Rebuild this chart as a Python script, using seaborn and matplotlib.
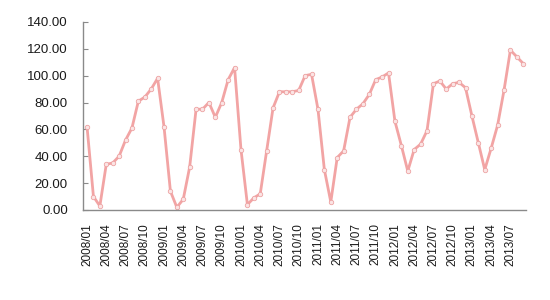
import matplotlib
matplotlib.use("Agg")
import matplotlib.pyplot as plt
import seaborn as sns
import pandas as pd
import numpy as np

# Monthly series 2008/01 - 2013/09
months = [f"{y}/{m:02d}" for y in range(2008, 2014) for m in range(1, 13)][:69]
values = [
    62, 10, 3, 34, 35, 40, 52, 61, 81, 84, 90, 98,          # 2008
    62, 14, 2, 8, 32, 75, 75, 80, 69, 80, 97, 106,          # 2009
    45, 4, 9, 12, 44, 76, 88, 88, 88, 89, 100, 101,         # 2010
    75, 30, 6, 39, 44, 69, 75, 79, 86, 97, 99, 102,         # 2011
    66, 48, 29, 45, 49, 59, 94, 96, 90, 94, 95, 91,         # 2012
    70, 50, 30, 46, 63, 89, 119, 114, 109,                  # 2013
]
yticks = [0, 20, 40, 60, 80, 100, 120, 140]

df = pd.DataFrame({"pos": np.arange(len(months)), "month": months, "value": values})

sns.set_style("white")
plt.rcParams["font.family"] = ["Liberation Sans", "DejaVu Sans"]

fig = plt.figure(figsize=(5.5, 3.0), dpi=100)
ax = fig.add_axes([0.151, 0.30, 0.805, 0.627])

line_color = "#F2A4A4"
sns.lineplot(data=df, x="pos", y="value", ax=ax, color=line_color, linewidth=2.0,
             marker="o", markersize=3.2, markerfacecolor="#FBE4E4",
             markeredgecolor="#EDA3A3", markeredgewidth=0.6)

ax.set_xlim(-0.62, 68.4)
ax.set_ylim(0, 140)
ax.set_yticks(yticks)
ax.set_yticklabels([f"{v:.2f}" for v in yticks], fontsize=9.5, color="#1a1a1a")
tick_pos = df["pos"].values[::3]
ax.set_xticks(tick_pos)
ax.set_xticklabels(df["month"].values[::3], rotation=90, fontsize=8.5, color="#1a1a1a")
ax.set_xlabel("")
ax.set_ylabel("")

for s in ["top", "right"]:
    ax.spines[s].set_visible(False)
for s in ["left", "bottom"]:
    ax.spines[s].set_color("#8a8a8a")
    ax.spines[s].set_linewidth(1.0)

ax.tick_params(axis="y", which="both", left=True, direction="in", length=3.5,
               width=0.8, color="#8a8a8a", pad=11)
ax.tick_params(axis="x", which="both", bottom=False, pad=6)
ax.grid(False)

fig.savefig("out.png", dpi=100)
